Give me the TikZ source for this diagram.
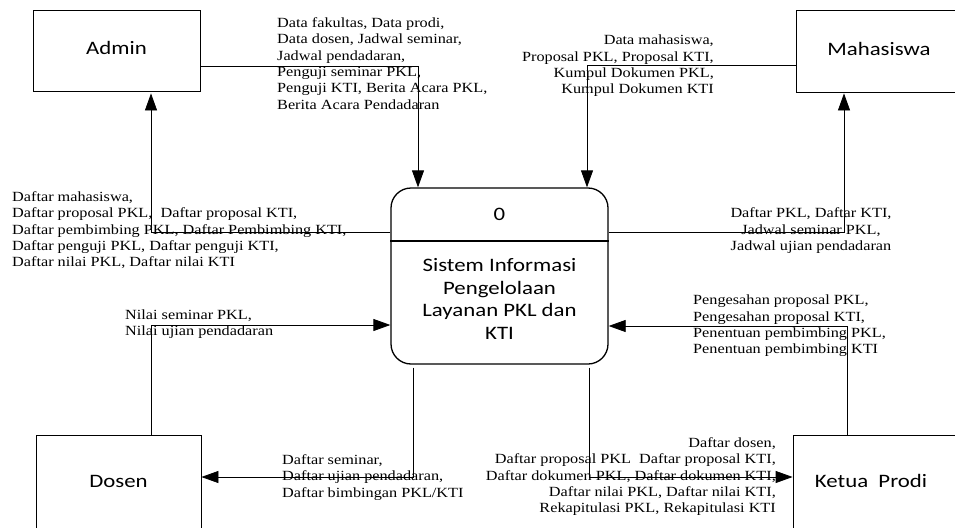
\documentclass[tikz,border=0pt]{standalone}
\usepackage{fontspec}
\setmainfont{Liberation Serif}
\newfontfamily\boxfont{Carlito}
\usepackage{graphicx}
\usetikzlibrary{arrows.meta}
\newcommand\lbl[2]{\scalebox{1.16}[1]{\fontsize{14}{16.3}\selectfont\begin{tabular}{@{}#1@{}}#2\end{tabular}}}
\newcommand\bxt[1]{\scalebox{1.2}[1]{\boxfont\fontsize{19}{22.5}\selectfont\begin{tabular}{@{}c@{}}#1\end{tabular}}}
\begin{document}
\begin{tikzpicture}[x=1pt,y=-1pt,
  entity/.style={draw, line width=0.8pt, inner sep=0pt},
  proc/.style={draw, line width=1.3pt, rounded corners=20pt, inner sep=0pt, minimum width=217pt, minimum height=176pt},
  txt/.style={inner sep=0pt},
  arr/.style={-{Triangle[length=17pt,width=12pt]}, line width=0.8pt},
  flow/.style={line width=0.8pt}]
\useasboundingbox (0,0) rectangle (955,527);
\clip (0,0) rectangle (955,527);
\fill[white] (0,0) rectangle (955,527);

% entities
\node[entity, minimum width=167pt, minimum height=81pt] (admin) at (116.5,50.5) {\bxt{Admin}};
\node[entity, minimum width=166pt, minimum height=82pt] (maha) at (879,51) {\bxt{Mahasiswa}};
\node[entity, minimum width=165pt, minimum height=96pt] (dosen) at (118.5,483) {\bxt{Dosen}};
\node[entity, minimum width=167pt, minimum height=96pt] (kaprodi) at (876.5,483) {};
\node[txt] (kaprodit) at (871,483) {\bxt{Ketua\ \ Prodi}};

% process
\node[proc] (sys) at (499.5,276) {};
\coordinate (dl) at (391,241);
\coordinate (dr) at (608,241);
\draw[line width=1.1pt] (sys.west |- dl) -- (sys.east |- dr);
\node[txt] (sysnum) at (499.5,216) {\bxt{0}};
\node[txt] (systxt) at (499.5,301) {\bxt{Sistem Informasi\\Pengelolaan\\Layanan PKL dan\\KTI}};

% labels
\node[txt, anchor=west] (l1) at (277,65) {\lbl{l}{Data fakultas, Data prodi,\\Data dosen, Jadwal seminar,\\Jadwal pendadaran,\\Penguji seminar PKL,\\Penguji KTI, Berita Acara PKL,\\Berita Acara Pendadaran}};
\node[txt, anchor=east] (l2) at (714,66) {\lbl{r}{Data mahasiswa,\\Proposal PKL, Proposal KTI,\\Kumpul Dokumen PKL,\\Kumpul Dokumen KTI}};
\node[txt, anchor=west] (l3) at (12,231) {\lbl{l}{Daftar mahasiswa,\\Daftar proposal PKL,\ \ Daftar proposal KTI,\\Daftar pembimbing PKL, Daftar Pembimbing KTI,\\Daftar penguji PKL, Daftar penguji KTI,\\Daftar nilai PKL, Daftar nilai KTI}};
\node[txt] (l4) at (811,231) {\lbl{c}{Daftar PKL, Daftar KTI,\\Jadwal seminar PKL,\\Jadwal ujian pendadaran}};
\node[txt, anchor=west] (l5) at (125,324.5) {\lbl{l}{Nilai seminar PKL,\\Nilai ujian pendadaran}};
\node[txt, anchor=west] (l6) at (693,326) {\lbl{l}{Pengesahan proposal PKL,\\Pengesahan proposal KTI,\\Penentuan pembimbing PKL,\\Penentuan pembimbing KTI}};
\node[txt, anchor=west] (l7) at (282,477.5) {\lbl{l}{Daftar seminar,\\Daftar ujian pendadaran,\\Daftar bimbingan PKL/KTI}};
\node[txt, anchor=east] (l8) at (776,477) {\lbl{r}{Daftar dosen,\\Daftar proposal PKL\ \ Daftar proposal KTI,\\Daftar dokumen PKL, Daftar dokumen KTI,\\Daftar nilai PKL, Daftar nilai KTI,\\Rekapitulasi PKL, Rekapitulasi KTI}};

% bends
\coordinate (b1) at (418,66);
\coordinate (b2) at (587,65);
\coordinate (b3) at (151,232);
\coordinate (b4) at (844,232);
\coordinate (b5) at (151,325);
\coordinate (b6) at (847,326);
\coordinate (b7) at (413,477);
\coordinate (b8) at (589,477);

% flows
\draw[arr] (admin.east |- b1) -- (b1) -- (sys.north -| b1);
\draw[arr] (maha.west |- b2) -- (b2) -- (sys.north -| b2);
\draw[arr] (sys.west |- b3) -- (b3) -- ([yshift=-2pt]admin.south -| b3);
\draw[arr] (sys.east |- b4) -- (b4) -- ([yshift=-1pt]maha.south -| b4);
\draw[arr] (dosen.north -| b5) -- (b5) -- (sys.west |- b5);
\draw[arr] (kaprodi.north -| b6) -- (b6) -- (sys.east |- b6);
\draw[arr] ([yshift=-3pt]sys.south -| b7) -- (b7) -- (dosen.east |- b7);
\draw[arr] ([yshift=-3pt]sys.south -| b8) -- (b8) -- (kaprodi.west |- b8);
\end{tikzpicture}
\end{document}
